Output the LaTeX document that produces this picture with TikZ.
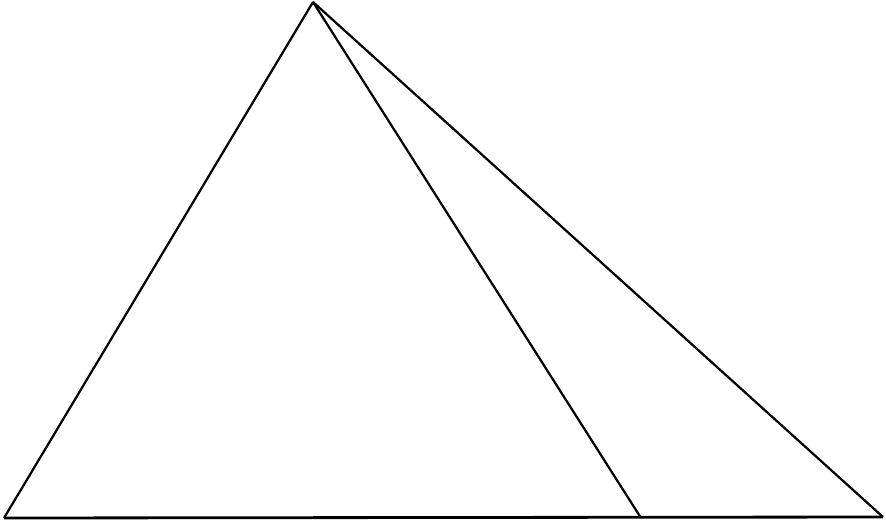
\documentclass[tikz,border=0pt]{standalone}
\usepackage{tikz}

\begin{document}
\begin{tikzpicture}[x=0.03cm,y=-0.03cm,line width=1.9pt,line join=round,
  side/.style={draw=black}]
  \useasboundingbox (0,0) rectangle (886,523);
  \coordinate (A) at (313,2);
  \coordinate (B) at (4,518);
  \coordinate (C) at (883,517);
  \coordinate (D) at (641,518);
  \draw[side] (A) -- (B);
  \draw[side,line width=2.4pt] (B) -- (C);
  \draw[side] (C) -- (A);
  \draw[side] (A) -- (D);
\end{tikzpicture}
\end{document}
